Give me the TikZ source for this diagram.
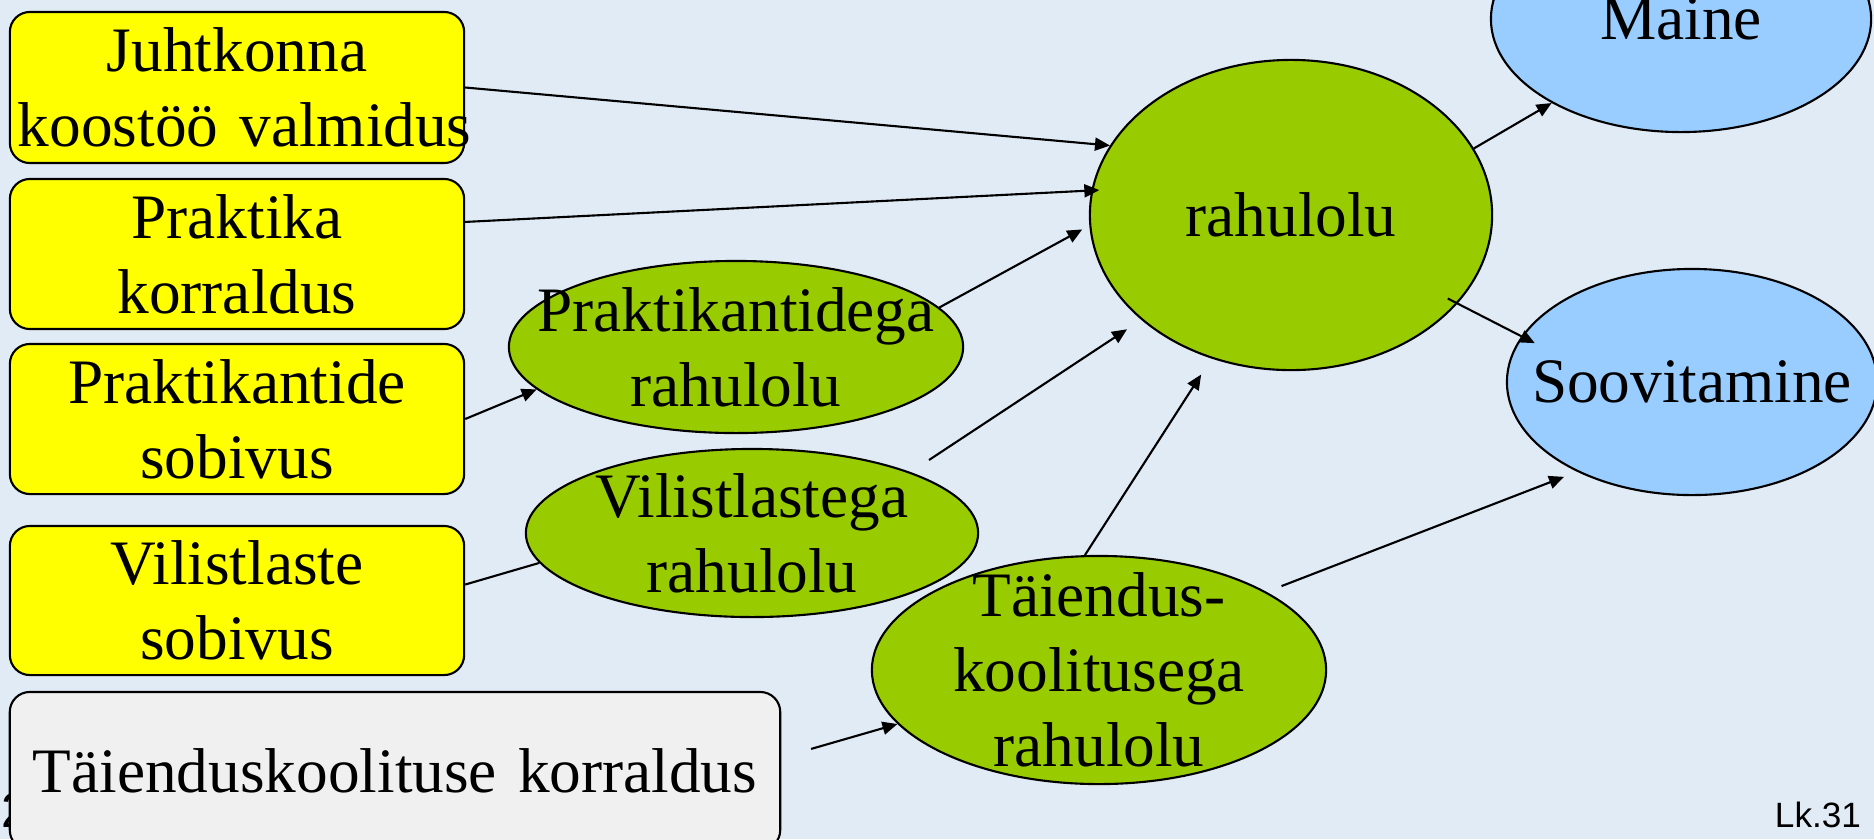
\documentclass[tikz,border=0pt]{standalone}
\usepackage{fontspec}
\setmainfont{Liberation Serif}
\newfontfamily\footfont{Liberation Sans}
\usetikzlibrary{shapes.geometric,arrows.meta}
\definecolor{slidebg}{RGB}{225,235,246}
\definecolor{boxyellow}{RGB}{255,255,0}
\definecolor{ellgreen}{RGB}{153,204,0}
\definecolor{ellblue}{RGB}{153,204,255}
\definecolor{boxgrey}{RGB}{240,240,240}
\begin{document}
\begin{tikzpicture}[x=0.01cm,y=-0.01cm,line width=0.6pt,
	txt/.style={font=\fontsize{18}{21.3}\selectfont,align=center},
	cbox/.style={draw,rounded corners=0.2cm,fill=boxyellow,txt,inner sep=0.08cm,text width=4.38cm},
	ell/.style={draw,ellipse,inner sep=0pt,fill=ellgreen},
	lbl/.style={txt,inner sep=0pt},
	arr/.style={-{Triangle[length=0.15cm,width=0.13cm]}}]
\useasboundingbox(0,0)rectangle(1874,839);
\fill[slidebg](0,0)rectangle(1874,839);
\node[font=\footfont\fontsize{14}{16}\selectfont,anchor=base west,inner sep=0pt](pagenr)at(0,827){2};
\node[font=\footfont\fontsize{10}{12}\selectfont,anchor=base east,inner sep=0pt](slidenr)at(1862,827){Lk.31};
\node[cbox,minimum height=1.51cm](juht)at(237,87.5){Juhtkonna\\\mbox{koostöö valmidus}};
\node[cbox,minimum height=1.50cm](prakt)at(237,254){Praktika\\korraldus};
\node[cbox,minimum height=1.50cm](praktsob)at(237,419){Praktikantide\\sobivus};
\node[cbox,minimum height=1.49cm](vilsob)at(237,600.5){Vilistlaste\\sobivus};
\node[cbox,fill=boxgrey,text width=7.54cm,minimum height=1.58cm](tkk)at(395,771){Täienduskoolituse korraldus};
\node[ell,minimum width=4.54cm,minimum height=1.72cm,label={[lbl]center:Praktikantidega\\rahulolu}](ptega)at(736,347){};
\node[ell,minimum width=4.52cm,minimum height=1.68cm,label={[lbl]center:Vilistlastega\\rahulolu}](vtega)at(752,533){};
\node[ell,minimum width=4.54cm,minimum height=2.28cm,label={[lbl]center:Täiendus-\\koolitusega\\rahulolu}](tkega)at(1099,670){};
\node[ell,minimum width=4.02cm,minimum height=3.10cm,label={[lbl]center:rahulolu}](rahulolu)at(1291,215){};
\node[ell,fill=ellblue,minimum width=3.80cm,minimum height=2.26cm,label={[lbl]center:Maine}](maine)at(1681,19){};
\node[ell,fill=ellblue,minimum width=3.70cm,minimum height=2.26cm,label={[lbl]center:Soovitamine}](soov)at(1692,382){};
\draw[arr](juht.east)--(rahulolu.159);
\draw[arr,shorten >=-0.08cm](prakt.8)--(rahulolu.173);
\draw[arr](praktsob.east)--(ptega.192);
\draw(vilsob.4)--(vtega.188);
\draw[arr,shorten >=0.08cm](ptega.11)--(rahulolu.183);
\draw[arr,shorten <=0.22cm,shorten >=0.17cm](vtega.21)--(rahulolu.215);
\draw[arr,shorten >=0.19cm](tkega.97)--(rahulolu.241);
\draw[arr,shorten <=0.16cm,shorten >=0.14cm](tkega.25)--(soov.218);
\draw[arr,shorten <=0.31cm](tkk.2)--(tkega.195);
\draw[arr](rahulolu.20)--(maine.213);
\draw[arr,shorten <=-0.11cm,shorten >=-0.15cm](rahulolu.332)--(soov.165);
\end{tikzpicture}
\end{document}
